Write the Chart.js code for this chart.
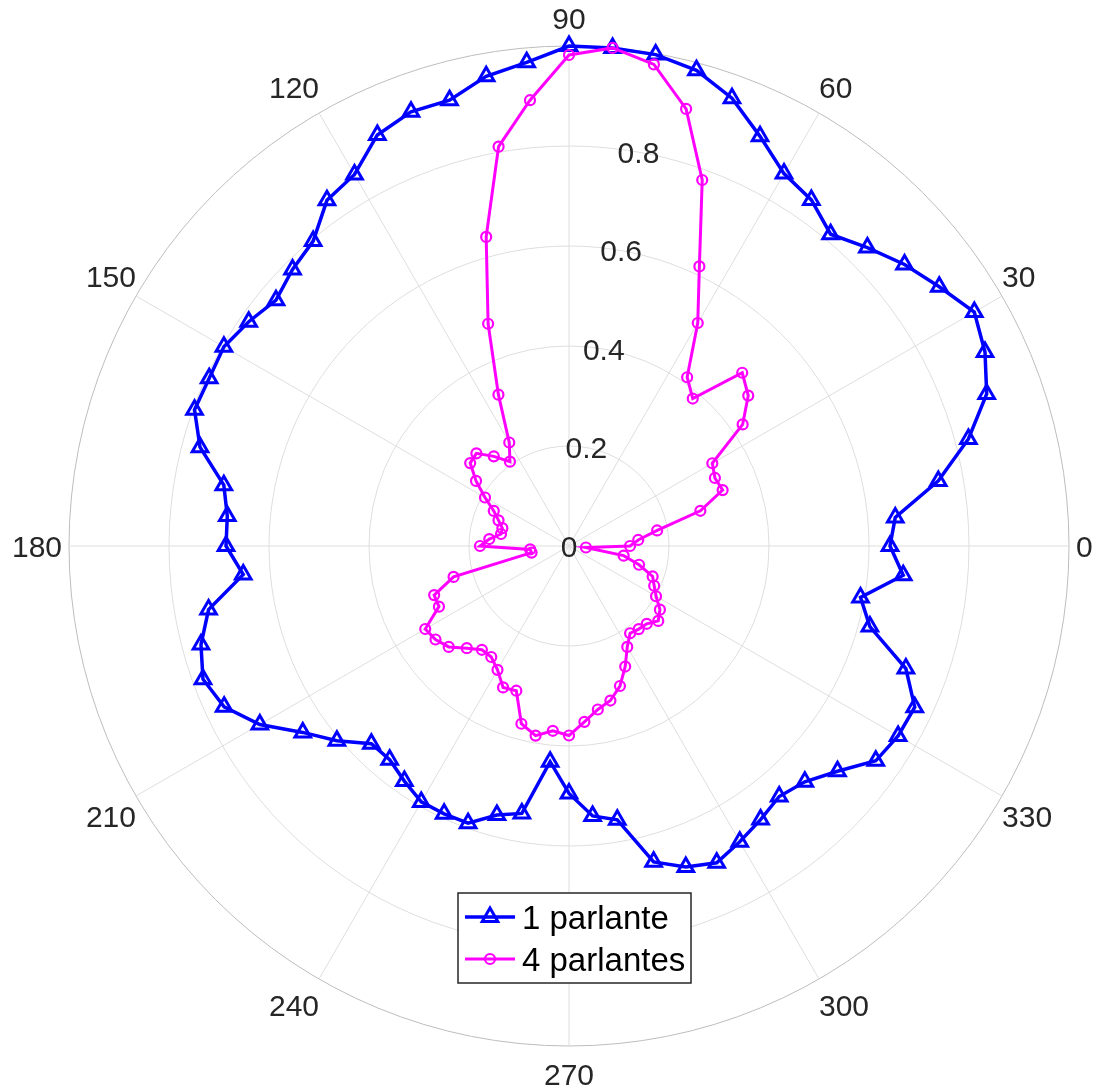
<!DOCTYPE html>
<html>
<head>
<meta charset="utf-8">
<script src="https://cdn.jsdelivr.net/npm/chart.js@4.4.1/dist/chart.umd.min.js"></script>
<style>
  html, body { margin: 0; padding: 0; background: #ffffff; }
  #wrap { width: 1096px; height: 1088px; position: relative; }
</style>
</head>
<body>
<div id="wrap"><canvas id="polar" width="1096" height="1088"></canvas></div>
<script>
// Measurement angles in degrees (counter-clockwise from 0 at the right)
const angleDeg = [
  0, 5, 10, 15, 20, 25, 30, 35, 40, 45, 50, 55,
  60, 65, 70, 75, 80, 85, 90, 95, 100, 105, 110, 115,
  120, 125, 130, 135, 140, 145, 150, 155, 160, 165, 170, 175,
  180, 185, 190, 195, 200, 205, 210, 215, 220, 225, 230, 235,
  240, 245, 250, 255, 260, 265, 270, 275, 280, 285, 290, 295,
  300, 305, 310, 315, 320, 325, 330, 335, 340, 345, 350, 355
];

// Normalised response, one speaker
const oneSpeaker = [
  0.642, 0.655, 0.750, 0.827, 0.889, 0.918, 0.936, 0.904, 0.876, 0.844, 0.814, 0.845,
  0.860, 0.904, 0.953, 0.985, 0.998, 1.000, 1.000, 0.971, 0.954, 0.923, 0.924, 0.907,
  0.858, 0.844, 0.796, 0.782, 0.765, 0.782, 0.797, 0.794, 0.797, 0.764, 0.701, 0.686,
  0.686, 0.654, 0.732, 0.762, 0.779, 0.761, 0.714, 0.650, 0.606, 0.559, 0.558, 0.574,
  0.591, 0.591, 0.590, 0.557, 0.543, 0.433, 0.495, 0.542, 0.556, 0.654, 0.683, 0.699,
  0.683, 0.668, 0.654, 0.667, 0.701, 0.749, 0.760, 0.763, 0.717, 0.623, 0.592, 0.671
];

// Normalised response, four speakers
const fourSpeakers = [
  0.122, 0.139, 0.179, 0.272, 0.327, 0.322, 0.331, 0.424, 0.468, 0.490, 0.385, 0.412,
  0.515, 0.617, 0.779, 0.905, 0.978, 1.000, 0.982, 0.895, 0.811, 0.640, 0.473, 0.334,
  0.239, 0.206, 0.234, 0.262, 0.258, 0.227, 0.194, 0.166, 0.150, 0.138, 0.138, 0.160,
  0.178, 0.078, 0.076, 0.239, 0.287, 0.287, 0.332, 0.326, 0.314, 0.289, 0.271, 0.271,
  0.286, 0.312, 0.308, 0.368, 0.385, 0.371, 0.379, 0.353, 0.332, 0.320, 0.298, 0.266,
  0.233, 0.213, 0.217, 0.220, 0.233, 0.222, 0.201, 0.188, 0.178, 0.145, 0.111, 0.034
];

const seriesNames = ['1 parlante', '4 parlantes'];
const angleTicks = [0, 30, 60, 90, 120, 150, 180, 210, 240, 270, 300, 330];
const radialTicks = [0, 0.2, 0.4, 0.6, 0.8];
const radialLabelAngle = 80;

// The radar scale runs clockwise from the top, so walk the angles from 90 downwards.
const n = angleDeg.length;
const topIndex = angleDeg.indexOf(90);
const order = angleDeg.map((_, i) => (topIndex - i + n) % n);
const radarAngles = order.map(k => angleDeg[k]);
const oneData = order.map(k => oneSpeaker[k]);
const fourData = order.map(k => fourSpeakers[k]);

const FONT = '"Liberation Sans", Arial, Helvetica, sans-serif';
const TICK_SIZE = 30;
const TEXT_COLOR = '#262626';
const GRID_COLOR = '#dedede';
const RIM_COLOR = '#bdbdbd';

const textLayer = {
  id: 'textLayer',
  afterDraw(chart) {
    const s = chart.scales.r;
    const ctx = chart.ctx;
    ctx.save();
    ctx.font = TICK_SIZE + 'px ' + FONT;
    ctx.fillStyle = TEXT_COLOR;
    ctx.textBaseline = 'alphabetic';
    const capH = TICK_SIZE * 0.716;

    // angular tick labels: anchored on the rim, pushed outwards by quadrant
    angleTicks.forEach(a => {
      const idx = radarAngles.indexOf(a);
      const label = String(a);
      const t = a * Math.PI / 180;
      const c = Math.cos(t), sn = Math.sin(t);
      const p = s.getPointPosition(idx, s.drawingArea);
      const w = ctx.measureText(label).width;
      let cx = p.x, cy = p.y;
      if (Math.abs(c) > 1e-6) {
        cx += Math.sign(c) * (w / 2 + (Math.abs(sn) < 1e-6 ? 7 : 0));
      }
      if (Math.abs(sn) > 1e-6) {
        cy -= Math.sign(sn) * (11.8 + 16.4 * Math.abs(sn));
      }
      ctx.textAlign = 'center';
      ctx.fillText(label, cx, cy + capH / 2);
    });

    // radial tick labels
    ctx.textAlign = 'center';
    const rIdx = radarAngles.indexOf(radialLabelAngle);
    radialTicks.forEach(v => {
      const p = s.getPointPositionForValue(rIdx, v);
      ctx.fillText(String(v), p.x, p.y + capH / 2);
    });

    // legend box
    const lx = 458, ly = 893, lw = 233, lh = 90;
    ctx.fillStyle = '#ffffff';
    ctx.fillRect(lx, ly, lw, lh);
    ctx.strokeStyle = TEXT_COLOR;
    ctx.lineWidth = 1.5;
    ctx.strokeRect(lx, ly, lw, lh);

    const rows = [917, 959];
    ctx.font = '33px ' + FONT;
    ctx.textAlign = 'left';
    chart.data.datasets.forEach((ds, i) => {
      const y = rows[i];
      ctx.strokeStyle = ds.borderColor;
      ctx.lineWidth = ds.borderWidth;
      ctx.beginPath();
      ctx.moveTo(465, y);
      ctx.lineTo(515, y);
      ctx.stroke();
      ctx.fillStyle = 'rgba(0,0,0,0)';
      ctx.lineWidth = ds.pointBorderWidth;
      Chart.helpers.drawPoint(ctx, {
        pointStyle: ds.pointStyle,
        radius: ds.pointRadius,
        borderWidth: ds.pointBorderWidth,
        rotation: 0
      }, 490, y);
      ctx.fillStyle = '#000000';
      ctx.fillText(ds.label, 522, y + 12);
    });
    ctx.restore();
  }
};

new Chart(document.getElementById('polar'), {
  type: 'radar',
  data: {
    labels: radarAngles.map(String),
    datasets: [
      {
        label: seriesNames[0],
        data: oneData,
        borderColor: '#0000ff',
        borderWidth: 3.5,
        pointStyle: 'triangle',
        pointRadius: 9,
        pointBorderWidth: 3,
        pointBorderColor: '#0000ff',
        pointBackgroundColor: 'rgba(0,0,0,0)',
        fill: false,
        tension: 0,
        order: 2
      },
      {
        label: seriesNames[1],
        data: fourData,
        borderColor: '#ff00ff',
        borderWidth: 3,
        pointStyle: 'circle',
        pointRadius: 5,
        pointBorderWidth: 2.2,
        pointBorderColor: '#ff00ff',
        pointBackgroundColor: 'rgba(0,0,0,0)',
        fill: false,
        tension: 0,
        order: 1
      }
    ]
  },
  options: {
    responsive: false,
    animation: false,
    devicePixelRatio: 1,
    layout: { padding: { left: 69, right: 27, top: 46, bottom: 42 } },
    plugins: { legend: { display: false }, tooltip: { enabled: false } },
    elements: { line: { tension: 0 } },
    scales: {
      r: {
        min: 0,
        max: 1,
        startAngle: 0,
        ticks: { display: false, stepSize: 0.2 },
        pointLabels: { display: false },
        grid: {
          circular: true,
          color: c => (c.tick && c.tick.value === 1 ? RIM_COLOR : GRID_COLOR),
          lineWidth: 1
        },
        angleLines: {
          display: true,
          color: GRID_COLOR,
          lineWidth: c => (radarAngles[c.index] % 30 === 0 ? 1 : 0)
        }
      }
    }
  },
  plugins: [textLayer]
});
</script>
</body>
</html>
